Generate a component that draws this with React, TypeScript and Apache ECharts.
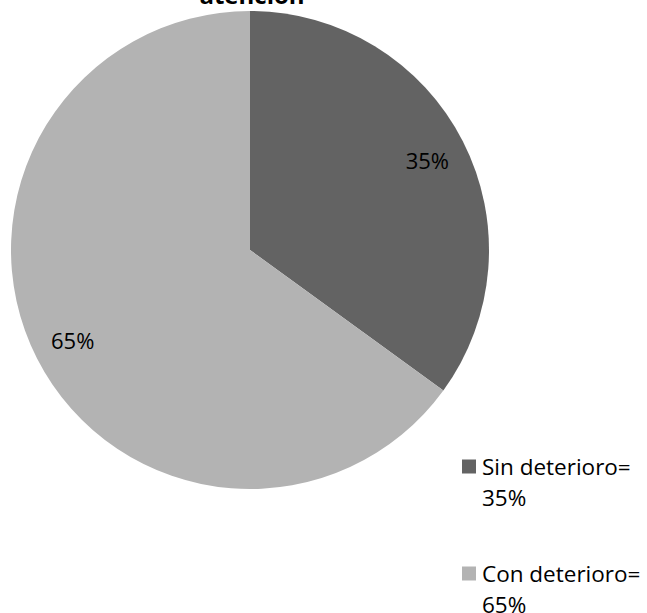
import React, { useEffect, useRef } from "react";
import * as echarts from "echarts";

const categories = ["Sin deterioro", "Con deterioro"];
const values = [35, 65];
const colors = ["#636363", "#b3b3b3"];
const titleText = "atención";

export default function App() {
  const ref = useRef<HTMLDivElement>(null);
  useEffect(() => {
    const chart = echarts.init(ref.current!, undefined, { renderer: "svg" });
    const data = categories.map((name, i) => ({ name, value: values[i], itemStyle: { color: colors[i] } }));
    const font = "'Open Sans', sans-serif";
    chart.setOption({
      animation: false,
      backgroundColor: "#ffffff",
      graphic: [
        {
          type: "text",
          x: 252,
          y: -6,
          style: {
            text: titleText,
            align: "center",
            verticalAlign: "middle",
            font: `bold 24px ${font}`,
            fill: "#000",
          },
        },
      ],
      legend: {
        orient: "vertical",
        left: 462,
        top: 420,
        height: 400,
        padding: 0,
        icon: "rect",
        itemWidth: 14,
        itemHeight: 14,
        itemGap: 14,
        selectedMode: false,
        data: categories,
        formatter: (name: string) => {
          const i = categories.indexOf(name);
          return `\n${name}=\n${values[i]}%`;
        },
        textStyle: { fontFamily: font, fontSize: 22.5, color: "#000", lineHeight: 31, padding: [0, 0, 0, 1] },
      },
      series: [
        {
          type: "pie",
          center: [250, 250],
          radius: [0, 239],
          startAngle: 90,
          clockwise: true,
          silent: true,
          label: { show: false },
          labelLine: { show: false },
          data,
        },
        {
          type: "pie",
          center: [250, 250],
          radius: [0, 392],
          startAngle: 90,
          clockwise: true,
          silent: true,
          legendHoverLink: false,
          itemStyle: { color: "transparent", borderWidth: 0 },
          label: {
            show: true,
            position: "inside",
            formatter: "{c}%",
            fontFamily: font,
            fontSize: 22,
            color: "#000",
          },
          labelLine: { show: false },
          data: categories.map((name, i) => ({ name: name + " ", value: values[i], itemStyle: { color: "transparent" } })),
        },
      ],
    });
    return () => chart.dispose();
  }, []);
  return <div ref={ref} style={{ position: "absolute", left: 0, top: 0, width: 647, height: 613 }} />;
}
